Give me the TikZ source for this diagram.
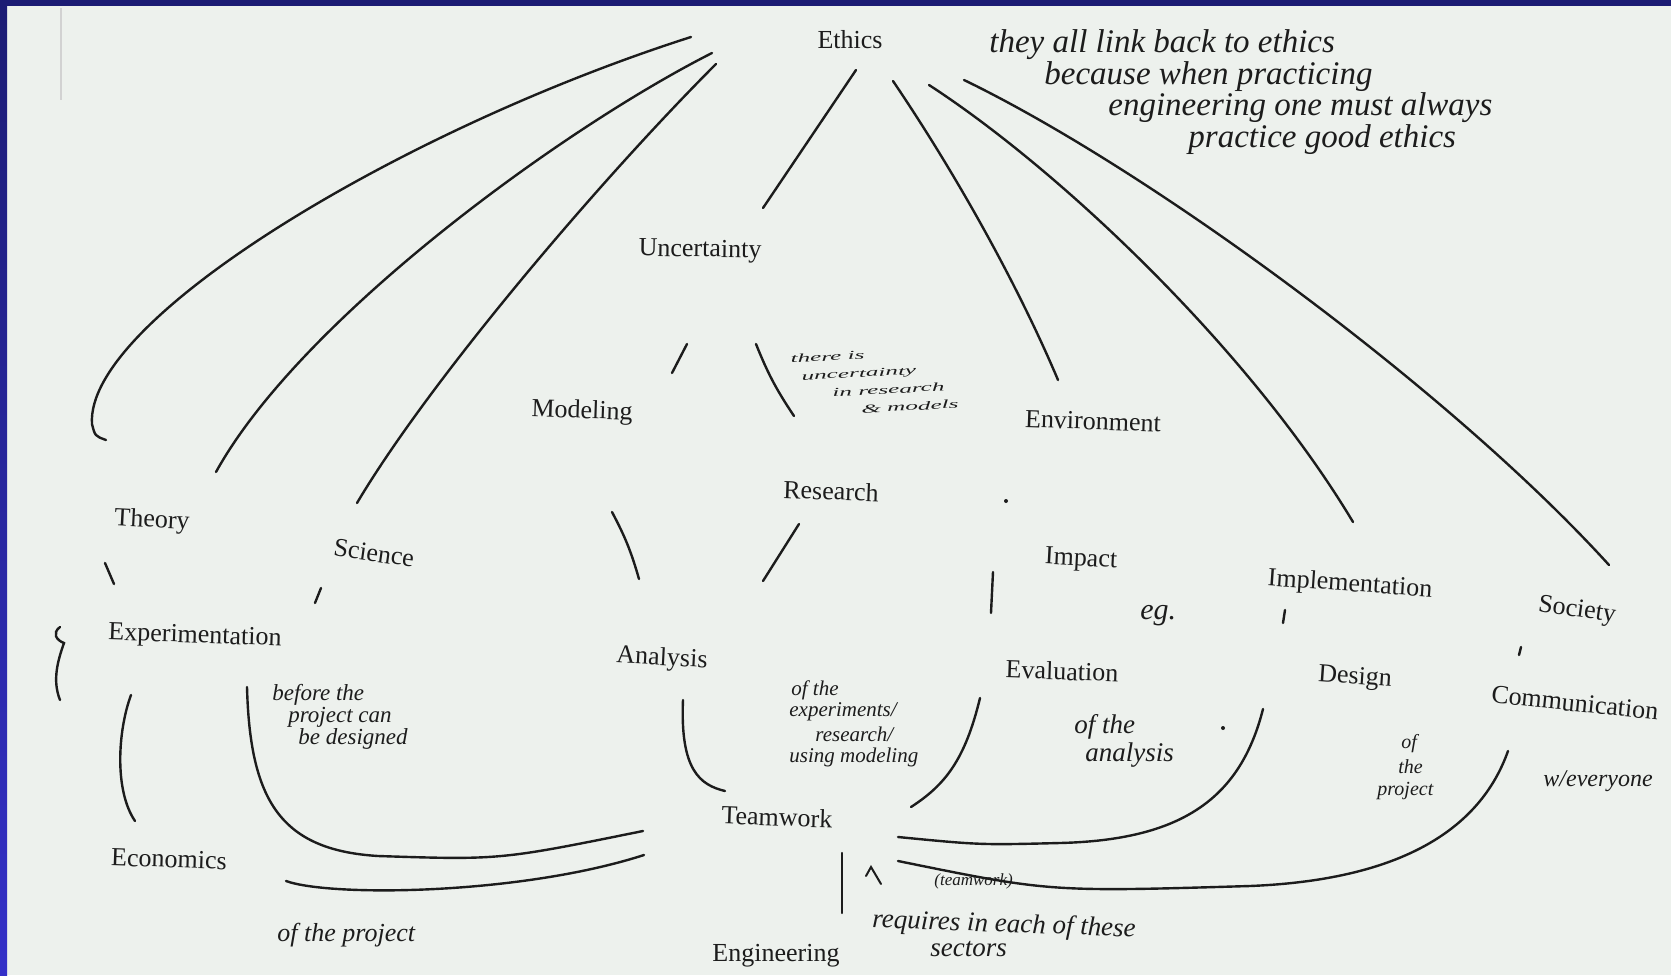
\documentclass[tikz,border=0pt]{standalone}
\usepackage{fontspec}
\setmainfont{Liberation Serif}

\definecolor{paper}{RGB}{237,241,237}
\definecolor{navy}{RGB}{28,28,116}
\definecolor{frameblue}{RGB}{52,48,200}
\definecolor{ink}{RGB}{28,28,28}

\tikzset{
  word/.style={font=\fontsize{13}{15}\selectfont, text=ink, inner sep=1pt},
  pen/.style={draw=ink, line width=1.2pt, line cap=round},
  hand/.style={text=ink, inner sep=0pt, anchor=west},
}

\begin{document}
\begin{tikzpicture}[x=0.5pt,y=-0.5pt]

% paper and frame
\fill[paper] (0,0) rectangle (1671,975);
\shade[top color=navy,bottom color=frameblue] (0,0) rectangle (7,975);
\fill[navy] (0,0) rectangle (1671,6);
\draw[gray!35,line width=.6pt] (61,8) -- (61,100); % margine
\useasboundingbox (0,0) rectangle (1671,975);

% printed words
\node[word] (ethics) at (850,40) {Ethics};
\node[word,rotate=-1] (uncert) at (700,251) {Uncertainty};
\node[word,rotate=-2] (model) at (582,412) {Modeling};
\node[word,rotate=-2] (envir) at (1093,421) {Environment};
\node[word,rotate=-2] (research) at (831,491) {Research};
\node[word,rotate=-3] (theory) at (152,521) {Theory};
\node[word,rotate=-8] (science) at (374,553) {Science};
\node[word,rotate=-3] (impact) at (1081,560) {Impact};
\node[word,rotate=-4] (implem) at (1350,585) {Implementation};
\node[word,rotate=-8] (society) at (1577,611) {Society};
\node[word,rotate=-2] (experim) at (195,637) {Experimentation};
\node[word,rotate=-3] (analysis) at (662,659) {Analysis};
\node[word,rotate=-2] (evalu) at (1062,671) {Evaluation};
\node[word,rotate=-4] (design) at (1355,678) {Design};
\node[word,rotate=-6] (commun) at (1575,703) {Communication};
\node[word,rotate=-2] (teamwork) at (777,817) {Teamwork};
\node[word,rotate=-2] (econ) at (169,859) {Economics};
\node[word] (engin) at (776,956) {Engineering};

% stroke ends
\coordinate (ea) at (691,37);  \coordinate (ta) at (106,440);
\coordinate (eb) at (712,53);  \coordinate (tb) at (216,472);
\coordinate (ec) at (716,64);  \coordinate (sa) at (357,503);
\coordinate (ed) at (856,70);  \coordinate (ua) at (763,208);
\coordinate (ee) at (893,81);  \coordinate (va) at (1058,380);
\coordinate (ef) at (929,85);  \coordinate (ia) at (1353,522);
\coordinate (eg) at (964,80);  \coordinate (sb) at (1609,565);

% lines to ethics
\draw[pen] (ea) .. controls (400,130) and (85,320) .. (92,424) .. controls (95,436) .. (ta);
\draw[pen] (eb) .. controls (560,130) and (300,320) .. (tb);
\draw[pen] (ec) .. controls (600,180) and (430,380) .. (sa);
\draw[pen] (ed) -- (ua);
\draw[pen] (ee) .. controls (960,180) and (1020,290) .. (va);
\draw[pen] (ef) .. controls (1060,170) and (1250,350) .. (ia);
\draw[pen] (eg) .. controls (1150,170) and (1450,390) .. (sb);

% short strokes
\coordinate (ub) at (687,344); \coordinate (mb) at (672,373);
\coordinate (uc) at (756,344); \coordinate (rc) at (794,416);
\coordinate (md) at (612,512); \coordinate (na) at (639,579);
\coordinate (rd) at (799,524); \coordinate (nb) at (763,581);
\coordinate (pa) at (993,572); \coordinate (la) at (991,613);
\draw[pen] (ub) -- (mb);
\draw[pen] (uc) to[bend right=6] (rc);
\draw[pen] (md) to[bend left=6] (na);
\draw[pen] (rd) -- (nb);
\draw[pen] (pa) -- (la);
\draw[pen] (105,563) -- (114,584);
\draw[pen] (321,588) -- (315,603);
\draw[pen] (1285,610) -- (1283,623);
\draw[pen] (1521,647) -- (1519,655);
\fill[ink] (1006,501) circle (2);
\fill[ink] (1223,728) circle (2);

% left bracket
\draw[pen] (60,627) .. controls (52,633) and (56,640) .. (64,643) .. controls (58,660) and (52,680) .. (60,700);

% lines to teamwork
\coordinate (xa) at (131,695); \coordinate (ca) at (135,821);
\coordinate (ba) at (247,687); \coordinate (wa) at (643,831);
\coordinate (oa) at (286,881); \coordinate (wb) at (644,855);
\coordinate (nc) at (683,700); \coordinate (wc) at (725,791);
\coordinate (lb) at (980,698); \coordinate (wd) at (911,807);
\coordinate (da) at (1263,709); \coordinate (we) at (898,837);
\coordinate (ma) at (1508,751); \coordinate (wf) at (898,861);
\coordinate (wg) at (842,853); \coordinate (ga) at (842,913);
\draw[pen] (xa) .. controls (118,730) and (114,790) .. (ca);
\draw[pen] (ba) .. controls (250,800) and (280,850) .. (378,856) .. controls (500,860) .. (wa);
\draw[pen] (oa) .. controls (330,897) and (520,895) .. (wb);
\draw[pen] (nc) .. controls (680,770) and (700,785) .. (wc);
\draw[pen] (lb) .. controls (965,760) and (945,785) .. (wd);
\draw[pen] (da) .. controls (1240,800) and (1180,840) .. (1060,843) .. controls (980,845) .. (we);
\draw[pen] (ma) .. controls (1480,830) and (1400,880) .. (1250,886) .. controls (1050,892) .. (wf);
\draw[pen] (wg) -- (ga);
\draw[pen,line width=1pt] (866,876) -- (871,867) -- (881,884); % freccia

% handwriting
\begin{scope}[font=\itshape]
  \node[hand,font=\itshape\fontsize{16.5}{18}\selectfont] (n1) at (989,45) {they all link back to ethics};
  \node[hand,font=\itshape\fontsize{16.5}{18}\selectfont] (n2) at (1044,77) {because when practicing};
  \node[hand,font=\itshape\fontsize{16.5}{18}\selectfont] (n3) at (1108,108) {engineering one must always};
  \node[hand,font=\itshape\fontsize{16.5}{18}\selectfont] (n4) at (1188,140) {practice good ethics};

  \node[hand,anchor=north west,rotate=3,align=left,font=\itshape\fontsize{6}{9}\selectfont] (n5) at (790,354)
    {\scalebox{2.1}[1]{there is}\\ \hspace*{5pt}\scalebox{2.1}[1]{uncertainty}\\ \hspace*{20pt}\scalebox{2.1}[1]{in research}\\ \hspace*{34pt}\scalebox{2.1}[1]{\& models}};

  \node[hand,font=\itshape\fontsize{11.5}{13}\selectfont] (n6) at (272,695) {before the};
  \node[hand,font=\itshape\fontsize{11.5}{13}\selectfont] (n7) at (288,717) {project can};
  \node[hand,font=\itshape\fontsize{11.5}{13}\selectfont] (n8) at (298,739) {be designed};

  \node[hand,font=\itshape\fontsize{10.5}{12}\selectfont] (n9) at (791,690) {of the};
  \node[hand,font=\itshape\fontsize{10.5}{12}\selectfont] (n10) at (789,712) {experiments/};
  \node[hand,font=\itshape\fontsize{10.5}{12}\selectfont] (n11) at (815,734) {research/};
  \node[hand,font=\itshape\fontsize{10.5}{12}\selectfont] (n12) at (789,757) {using modeling};

  \node[hand,font=\itshape\fontsize{13.5}{15}\selectfont] (n13) at (1074,727) {of the};
  \node[hand,font=\itshape\fontsize{13.5}{15}\selectfont] (n14) at (1085,755) {analysis};

  \node[hand,font=\itshape\fontsize{10}{11}\selectfont] (n15) at (1401,744) {of};
  \node[hand,font=\itshape\fontsize{10}{11}\selectfont] (n16) at (1398,767) {the};
  \node[hand,font=\itshape\fontsize{10}{11}\selectfont] (n17) at (1377,791) {project};

  \node[hand,font=\itshape\fontsize{12}{13}\selectfont] (n18) at (1543,781) {w/everyone};
  \node[hand,font=\itshape\fontsize{15}{16}\selectfont] (n19) at (1140,616) {eg.};

  \node[hand,font=\itshape\fontsize{8.5}{10}\selectfont] (n20) at (934,881) {(teamwork)};
  \node[hand,rotate=-2,font=\itshape\fontsize{13.5}{15}\selectfont] (n21) at (872,921) {requires in each of these};
  \node[hand,font=\itshape\fontsize{13.5}{15}\selectfont] (n22) at (930,949) {sectors};

  \node[hand,font=\itshape\fontsize{13}{14}\selectfont] (n23) at (277,935) {of the project};
\end{scope}

\end{tikzpicture}
\end{document}
